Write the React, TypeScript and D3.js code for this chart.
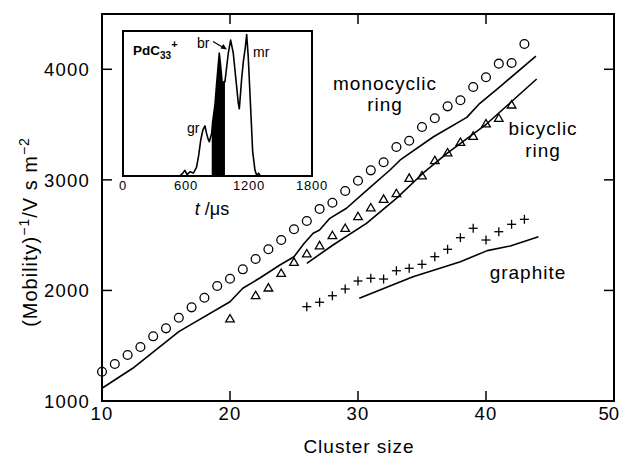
import React from "react";
import * as d3 from "d3";

// Inverse mobility vs. cluster size for PdC_n+ isomers
const monoSizes = [10, 11, 12, 13, 14, 15, 16, 17, 18, 19, 20, 21, 22, 23, 24, 25, 26, 27, 28, 29, 30, 31, 32, 33, 34, 35, 36, 37, 38, 39, 40, 41, 42, 43];
const monoValues = [1265, 1335, 1416, 1488, 1585, 1657, 1753, 1847, 1934, 2040, 2106, 2191, 2284, 2372, 2456, 2553, 2628, 2737, 2793, 2899, 2992, 3086, 3159, 3297, 3354, 3478, 3557, 3665, 3720, 3840, 3928, 4051, 4057, 4229];

const biSizes = [20, 22, 23, 24, 25, 26, 27, 28, 29, 30, 31, 32, 33, 34, 35, 36, 37, 38, 39, 40, 41, 42];
const biValues = [1748, 1959, 2028, 2160, 2260, 2336, 2410, 2501, 2567, 2673, 2752, 2830, 2881, 3020, 3042, 3180, 3250, 3345, 3400, 3512, 3562, 3683];

const graphSizes = [26, 27, 28, 29, 30, 31, 32, 33, 34, 35, 36, 37, 38, 39, 40, 41, 42, 43];
const graphValues = [1853, 1893, 1952, 2013, 2085, 2110, 2103, 2178, 2200, 2236, 2305, 2372, 2477, 2562, 2456, 2531, 2598, 2643];

// Calculated curves
const monoCalcSizes = [10, 12.4, 16, 20, 21, 22.3, 23.9, 25, 25.8, 26.5, 27, 27.8, 29.1, 30.7, 32.5, 33.3, 35.9, 38.5, 39.5, 41.1, 43.9];
const monoCalcValues = [1115, 1296, 1627, 1898, 2020, 2110, 2230, 2305, 2426, 2517, 2547, 2652, 2743, 2908, 3089, 3180, 3390, 3565, 3690, 3843, 4120];

const biCalcSizes = [26, 28.05, 30.66, 33, 35.08, 36.9, 40.04, 43.96];
const biCalcValues = [2245, 2411, 2607, 2833, 3060, 3235, 3505, 3912];

const graphCalcSizes = [30.1, 34.3, 38, 40.1, 41.9, 44.1];
const graphCalcValues = [1929, 2124, 2260, 2360, 2402, 2486];

const xTicks = [10, 20, 30, 40, 50];
const yTicks = [1000, 2000, 3000, 4000];

// Arrival-time distribution (inset)
const driftTimes = [0, 540, 570, 590, 610, 640, 670, 700, 720, 740, 760, 781, 795, 810, 822, 845, 854, 876, 892, 917, 930, 946, 962, 971, 1003, 1025, 1050, 1076, 1098, 1108, 1130, 1146, 1165, 1178, 1193, 1216, 1235, 1257, 1275, 1290, 1310, 1800];
const intensities = [0, 0, 2, 4, 1, 3, 2, 6, 14, 25, 32, 35, 30, 26, 24, 30, 38, 50, 65, 86, 77, 64, 66, 66, 86, 95, 86, 67, 51, 47, 68, 80, 90, 99, 83, 47, 17, 4, 0, 2, 0, 0];
const shadedFrom = 845;
const shadedTo = 971;
const insetTicks = [0, 600, 1200, 1800];

const FONT = "'Liberation Sans', Arial, Helvetica, sans-serif";

export default function App() {
  const W = 620;
  const H = 456;
  const left = 102, right = 614, top = 14, bottom = 401;

  const x = d3.scaleLinear().domain([10, 50]).range([left, right]);
  const y = d3.scaleLinear().domain([1000, 4500]).range([bottom, top]);

  const line = d3
    .line<[number, number]>()
    .x((d) => x(d[0]))
    .y((d) => y(d[1]));

  const zip = (a: number[], b: number[]) => a.map((v, i) => [v, b[i]] as [number, number]);

  const monoPts = zip(monoSizes, monoValues);
  const biPts = zip(biSizes, biValues);
  const graphPts = zip(graphSizes, graphValues);

  // inset
  const iL = 123, iR = 312, iT = 31, iB = 176;
  const ix = d3.scaleLinear().domain([0, 1800]).range([iL, iR]);
  const iy = d3.scaleLinear().domain([0, 100]).range([iB, iT + 2]);
  const trace = zip(driftTimes, intensities);
  const traceLine = d3
    .line<[number, number]>()
    .x((d) => ix(d[0]))
    .y((d) => iy(d[1]));
  const shadeArea = d3
    .area<[number, number]>()
    .x((d) => ix(d[0]))
    .y0(iy(0))
    .y1((d) => iy(d[1]));
  const shaded = trace.filter((d) => d[0] >= shadedFrom && d[0] <= shadedTo);

  const tri = d3.symbol(d3.symbolTriangle, 32)();
  const tickLen = 10;
  const innerTicksY = yTicks.filter((v) => v > 1000);
  const innerTicksX = xTicks.filter((v) => v > 10 && v < 50);

  return (
    <svg
      width={W}
      height={H}
      viewBox={`0 0 ${W} ${H}`}
      style={{ position: "absolute", left: 0, top: 0, background: "#fff" }}
      fontFamily={FONT}
    >
      <rect x={0} y={0} width={W} height={H} fill="#fff" />

      {/* frame */}
      <rect x={left} y={top} width={right - left} height={bottom - top} fill="none" stroke="#000" strokeWidth={2} />

      {/* ticks on all four sides, pointing inward */}
      {innerTicksY.map((v) => (
        <g key={"yt" + v} stroke="#000" strokeWidth={1.5}>
          <line x1={left} x2={left + tickLen} y1={y(v)} y2={y(v)} />
          <line x1={right} x2={right - tickLen} y1={y(v)} y2={y(v)} />
        </g>
      ))}
      {innerTicksX.map((v) => (
        <g key={"xt" + v} stroke="#000" strokeWidth={1.5}>
          <line x1={x(v)} x2={x(v)} y1={bottom} y2={bottom - tickLen} />
          <line x1={x(v)} x2={x(v)} y1={top} y2={top + tickLen} />
        </g>
      ))}

      {/* tick labels */}
      {yTicks.map((v) => (
        <text key={"yl" + v} x={90} y={y(v) + 7} textAnchor="end" fontSize={18.5} letterSpacing={1.2}>
          {v}
        </text>
      ))}
      {xTicks.map((v) => (
        <text
          key={"xl" + v}
          x={v === 50 ? 619 : x(v)}
          y={420}
          textAnchor={v === 50 ? "end" : "middle"}
          fontSize={18.5}
          letterSpacing={v === 50 ? 0 : 1.2}
        >
          {v}
        </text>
      ))}

      {/* axis titles */}
      <text x={359} y={453} textAnchor="middle" fontSize={19} letterSpacing={1}>
        Cluster size
      </text>
      <text transform="translate(36.5,232) rotate(-90)" textAnchor="middle" fontSize={20} letterSpacing={1}>
        (Mobility)
        <tspan fontSize={14} dy={-8}>−1</tspan>
        <tspan dy={8}>/V s m</tspan>
        <tspan fontSize={14} dy={-8}>−2</tspan>
      </text>

      {/* calculated curves */}
      <g fill="none" stroke="#000" strokeWidth={1.6} strokeLinejoin="round">
        <path d={line(zip(monoCalcSizes, monoCalcValues)) || ""} />
        <path d={line(zip(biCalcSizes, biCalcValues)) || ""} />
        <path d={line(zip(graphCalcSizes, graphCalcValues)) || ""} />
      </g>

      {/* measured points */}
      <g fill="none" stroke="#000" strokeWidth={1.3}>
        {monoPts.map(([n, v]) => (
          <circle key={"m" + n} cx={x(n)} cy={y(v)} r={4.4} />
        ))}
        {biPts.map(([n, v]) => (
          <path key={"b" + n} d={tri || ""} transform={`translate(${x(n)},${y(v) + 1.2})`} />
        ))}
        {graphPts.map(([n, v]) => (
          <g key={"g" + n} transform={`translate(${x(n)},${y(v)})`}>
            <line x1={-4.5} x2={4.5} y1={0} y2={0} />
            <line x1={0} x2={0} y1={-4.5} y2={4.5} />
          </g>
        ))}
      </g>

      {/* series labels */}
      <g fontSize={19} letterSpacing={1} textAnchor="middle">
        <text x={385} y={89.5}>monocyclic</text>
        <text x={385} y={110.5}>ring</text>
        <text x={543} y={135}>bicyclic</text>
        <text x={543} y={156.5}>ring</text>
        <text x={528} y={279}>graphite</text>
      </g>

      {/* inset: arrival time distribution */}
      <rect x={iL} y={iT} width={iR - iL} height={iB - iT} fill="#fff" stroke="#000" strokeWidth={2} />
      <path d={shadeArea(shaded) || ""} fill="#000" />
      <path d={traceLine(trace) || ""} fill="none" stroke="#000" strokeWidth={1.6} strokeLinejoin="round" />
      {insetTicks.map((v) => (
        <text key={"it" + v} x={ix(v)} y={190} textAnchor="middle" fontSize={13} letterSpacing={0.8}>
          {v}
        </text>
      ))}
      <text x={212} y={215} textAnchor="middle" fontSize={18}>
        <tspan fontStyle="italic">t</tspan>
        <tspan> /μs</tspan>
      </text>
      <text x={133} y={55} fontSize={13.5} fontWeight="bold">
        PdC
        <tspan fontSize={10} dy={4}>33</tspan>
        <tspan fontSize={11} dy={-11}>+</tspan>
      </text>
      <text x={197} y={48} fontSize={14}>br</text>
      <text x={187} y={133} fontSize={14}>gr</text>
      <text x={253} y={57} fontSize={14}>mr</text>
      <line x1={213} y1={41.5} x2={224} y2={48} stroke="#000" strokeWidth={1.2} />
      <path d="M227,49.5 L220.5,48.6 L223.3,43.9 Z" fill="#000" />
    </svg>
  );
}
